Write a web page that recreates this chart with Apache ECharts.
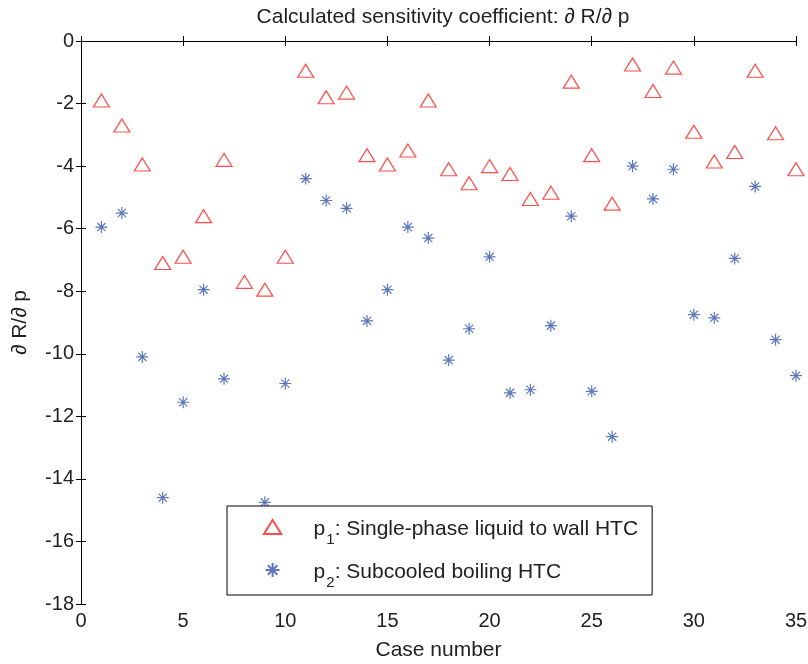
<!DOCTYPE html>
<html>
<head>
<meta charset="utf-8">
<script src="https://cdn.jsdelivr.net/npm/echarts@6/dist/echarts.min.js"></script>
<style>
  html, body { margin: 0; padding: 0; background: #fff; }
  #main { width: 808px; height: 664px; }
</style>
</head>
<body>
<div id="main"></div>
<script>
// case numbers 1..35
var cases = [1, 2, 3, 4, 5, 6, 7, 8, 9, 10, 11, 12, 13, 14, 15, 16, 17, 18, 19, 20,
  21, 22, 23, 24, 25, 26, 27, 28, 29, 30, 31, 32, 33, 34, 35];

// p1: single-phase liquid to wall HTC
var p1 = [-1.9, -2.7, -3.95, -7.1, -6.9, -5.6, -3.8, -7.7, -7.95, -6.9,
  -0.95, -1.8, -1.65, -3.65, -3.95, -3.5, -1.9, -4.1, -4.55, -4.0,
  -4.25, -5.05, -4.85, -1.3, -3.65, -5.2, -0.75, -1.6, -0.85, -2.9,
  -3.85, -3.55, -0.95, -2.95, -4.1];

// p2: subcooled boiling HTC (case 8 hidden behind the legend)
var p2 = [-5.95, -5.5, -10.1, -14.6, -11.55, -7.95, -10.8, null, -14.75, -10.95,
  -4.4, -5.1, -5.35, -8.95, -7.95, -5.95, -6.3, -10.2, -9.2, -6.9,
  -11.25, -11.15, -9.1, -5.6, -11.2, -12.65, -4.0, -5.05, -4.1, -8.75,
  -8.85, -6.95, -4.65, -9.55, -10.7];

var legendText = {
  p1: '{p|p}{sub|1}{t|: Single-phase liquid to wall HTC}',
  p2: '{p|p}{sub|2}{t|: Subcooled boiling HTC}'
};

var triangle = 'path://M8,0 L16,13 L0,13 Z';
var asterisk = 'path://M0,5 L10,5 M5,0 L5,10 M1.6,1.6 L8.4,8.4 M8.4,1.6 L1.6,8.4';

var font = 'Liberation Sans, Arial, sans-serif';
var chart = echarts.init(document.getElementById('main'));

function pairs(vals) {
  var out = [];
  for (var i = 0; i < cases.length; i++) {
    if (vals[i] !== null) out.push([cases[i], vals[i]]);
  }
  return out;
}

var tick = { show: true, inside: true, length: 5, lineStyle: { color: '#000' } };
var line = { show: true, lineStyle: { color: '#000', width: 1 } };

var option = {
  backgroundColor: '#fff',
  animation: false,
  title: {
    text: 'Calculated sensitivity coefficient: \u2202 R/\u2202 p',
    left: 438,
    textAlign: 'center',
    top: 2,
    textStyle: { fontFamily: font, fontSize: 21, fontWeight: 'normal', color: '#222' }
  },
  grid: { left: 81, right: 12, top: 41, bottom: 60, outerBoundsMode: 'none' },
  xAxis: [{
    type: 'value', min: 0, max: 35, interval: 5,
    name: 'Case number', nameLocation: 'middle', nameGap: 36,
    nameTextStyle: { fontFamily: font, fontSize: 21, color: '#222' },
    axisLine: line, axisTick: tick, splitLine: { show: false },
    axisLabel: { fontFamily: font, fontSize: 20, color: '#222', margin: 7 }
  }, {
    type: 'value', min: 0, max: 35, interval: 5, position: 'top',
    axisLine: line, axisTick: tick, splitLine: { show: false },
    axisLabel: { show: false }
  }],
  yAxis: [{
    type: 'value', min: -18, max: 0, interval: 2,
    name: '\u2202 R/\u2202 p', nameLocation: 'middle', nameGap: 50, nameRotate: 90,
    nameTextStyle: { fontFamily: font, fontSize: 21, color: '#222' },
    axisLine: line, axisTick: tick, splitLine: { show: false },
    axisLabel: { fontFamily: font, fontSize: 20, color: '#222', margin: 7 }
  }, {
    type: 'value', min: -18, max: 0, interval: 2, position: 'right',
    axisLine: line, axisTick: tick, splitLine: { show: false },
    axisLabel: { show: false }
  }],
  legend: {
    orient: 'vertical',
    left: 227, top: 506,
    padding: [13, 14, 5, 36],
    itemWidth: 72, itemHeight: 14,
    itemGap: 15,
    backgroundColor: '#fff',
    borderColor: '#000', borderWidth: 1,
    data: ['p1', 'p2'],
    formatter: function (name) { return legendText[name]; },
    textStyle: {
      fontFamily: font, color: '#222',
      rich: {
        p: { fontFamily: font, fontSize: 21, color: '#222', lineHeight: 26, verticalAlign: 'bottom' },
        sub: { fontFamily: font, fontSize: 15, color: '#222', lineHeight: 26, verticalAlign: 'bottom', padding: [0, 0, -7, 1] },
        t: { fontFamily: font, fontSize: 21, color: '#222', lineHeight: 26, verticalAlign: 'bottom' }
      }
    }
  },
  series: [{
    name: 'p1',
    type: 'scatter',
    data: pairs(p1),
    symbol: triangle,
    symbolSize: [16, 13],
    itemStyle: { color: 'rgba(255,255,255,0)', borderColor: '#ff2020', borderWidth: 1.2 },
    z: 3
  }, {
    name: 'p2',
    type: 'scatter',
    data: pairs(p2),
    symbol: asterisk,
    symbolSize: 12,
    itemStyle: { color: 'rgba(255,255,255,0)', borderColor: '#3355aa', borderWidth: 1.2 },
    z: 2
  }]
};

option && chart.setOption(option);
</script>
</body>
</html>
